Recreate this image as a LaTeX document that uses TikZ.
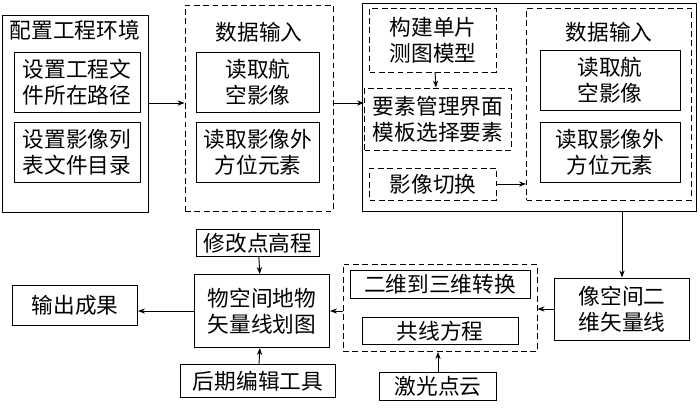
\documentclass[tikz,border=0pt]{standalone}
\usepackage{fontspec}
\setmainfont{Noto Sans CJK SC}
\usetikzlibrary{arrows.meta}
\tikzset{box/.style={draw, thick, align=center, inner sep=0pt},
	dbox/.style={box, dash pattern=on 5pt off 3pt},
	conn/.style={thick,-{Stealth[length=6pt]}}}
\begin{document}
\begin{tikzpicture}[x=0.03cm,y=-0.03cm,font=\fontsize{18.5}{22}\selectfont]
\useasboundingbox (0,0) rectangle (700,407);
\node[box,minimum width=4.38cm,minimum height=5.9cm] (b1) at (75,114) {};
\node (t1) at (75,30) {配置工程环境};
\node[box,minimum width=3.78cm,minimum height=1.8cm] (b1a) at (77,82) {设置工程文\\件所在路径};
\node[box,minimum width=3.78cm,minimum height=1.8cm] (b1b) at (77,152) {设置影像列\\表文件目录};
\node[dbox,minimum width=4.44cm,minimum height=6.18cm] (b2) at (259,108) {};
\node (t2) at (259,32) {数据输入};
\node[box,minimum width=3.69cm,minimum height=1.8cm] (b2a) at (258,82) {读取航\\空影像};
\node[box,minimum width=3.69cm,minimum height=1.8cm] (b2b) at (258,152) {读取影像外\\方位元素};
\node[box,minimum width=10.02cm,minimum height=6.24cm] (b3) at (529,107) {};
\node[dbox,minimum width=3.81cm,minimum height=1.92cm] (c1) at (433,40) {构建单片\\测图模型};
\node[dbox,minimum width=4.41cm,minimum height=1.86cm] (c2) at (438,119) {要素管理界面\\模板选择要素};
\node[dbox,minimum width=3.81cm,minimum height=0.96cm] (c3) at (433,184) {影像切换};
\node[dbox,minimum width=4.95cm,minimum height=5.76cm] (c4) at (609,104) {};
\node (t4) at (609,32) {数据输入};
\node[box,minimum width=4.2cm,minimum height=1.8cm] (c4a) at (610,80) {读取航\\空影像};
\node[box,minimum width=4.2cm,minimum height=1.8cm] (c4b) at (610,152) {读取影像外\\方位元素};
\node[box,minimum width=4.05cm,minimum height=1.86cm] (d1) at (622,309) {像空间二\\维矢量线};
\node[dbox,minimum width=5.82cm,minimum height=2.61cm] (d2) at (440,308) {};
\node[box,minimum width=5.4cm,minimum height=0.84cm] (d2a) at (440,284) {二维到三维转换};
\node[box,minimum width=4.68cm,minimum height=0.81cm] (d2b) at (440,331) {共线方程};
\node[box,minimum width=4.05cm,minimum height=2.19cm] (e) at (262,311) {物空间地物\\矢量线划图};
\node[box,minimum width=3.69cm,minimum height=0.81cm] (e1) at (258,243) {修改点高程};
\node[box,minimum width=4.65cm,minimum height=0.99cm] (e2) at (258,381) {后期编辑工具};
\node[box,minimum width=3.51cm,minimum height=0.84cm] (f) at (438,386) {激光点云};
\node[box,minimum width=3.75cm,minimum height=1.2cm] (g) at (75,305) {输出成果};
\coordinate (m) at (0,103);
% connectors
\draw[conn] (b1.east |- m) -- (b2.west |- m);
\draw[conn] (b2.east |- m) -- (c2.west |- m);
\draw[conn] (c1) -- (c2);
\draw[conn] (c3.east) -- (c4.west |- c3);
\draw[conn] (b3.south -| d1) -- (d1.north);
\draw[conn] (d1.west) -- (d2.east |- d1);
\draw[conn] (d2.west |- e) -- (e.east);
\draw[conn] (e1) -- (e);
\draw[conn] (e2) -- (e);
\draw[conn] (f.north) -- (f |- d2.south);
\draw[conn] (e.west) -- (g.east |- e);
\end{tikzpicture}
\end{document}
